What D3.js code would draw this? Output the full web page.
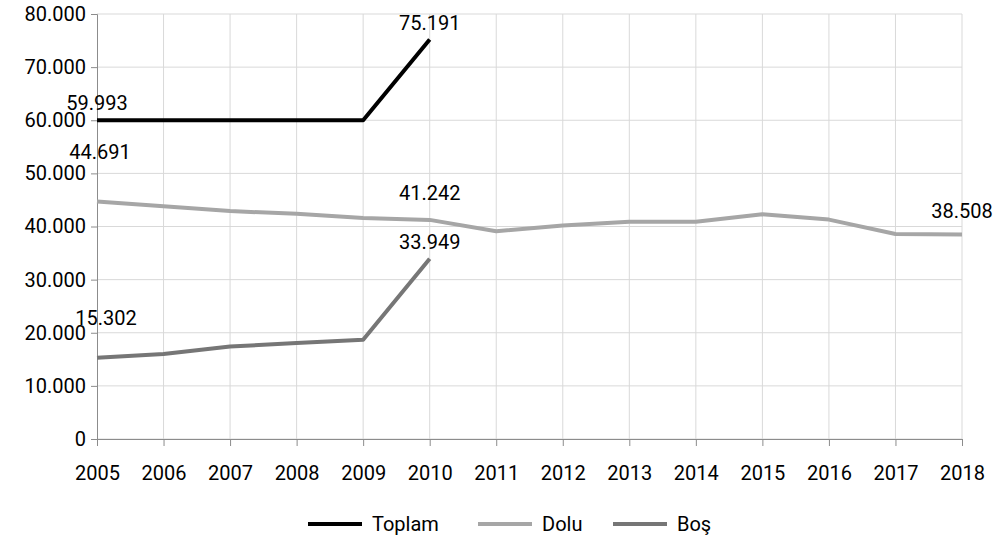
<!DOCTYPE html>
<html>
<head>
<meta charset="utf-8">
<script src="https://cdn.jsdelivr.net/npm/d3@7"></script>
<style>
  body { margin: 0; background: #fff; }
  text { font-family: Roboto, "Noto Sans", sans-serif; fill: #000; }
</style>
</head>
<body>
<div id="chart"></div>
<script>
var years = [2005, 2006, 2007, 2008, 2009, 2010, 2011, 2012, 2013, 2014, 2015, 2016, 2017, 2018];
var toplam = [59993, 60000, 60000, 60000, 60000, 75191];
var dolu = [44691, 43800, 42900, 42400, 41600, 41242, 39100, 40200, 40900, 40900, 42300, 41300, 38600, 38508];
var bos = [15302, 16000, 17400, 18050, 18700, 33949];
var yTicks = [0, 10000, 20000, 30000, 40000, 50000, 60000, 70000, 80000];

// data labels: series, index
var labels = [
  { s: 'toplam', i: 0, dx: 0, dy: -10 },
  { s: 'toplam', i: 5, dx: 0, dy: -10 },
  { s: 'dolu', i: 0, dx: 3, dy: -43 },
  { s: 'dolu', i: 5, dx: 0, dy: -20 },
  { s: 'dolu', i: 13, dx: 0, dy: -16 },
  { s: 'bos', i: 0, dx: 9, dy: -33 },
  { s: 'bos', i: 5, dx: 0, dy: -10 }
];

var series = [
  { key: 'toplam', name: 'Toplam', values: toplam, color: '#000000' },
  { key: 'dolu', name: 'Dolu', values: dolu, color: '#a6a6a6' },
  { key: 'bos', name: 'Boş', values: bos, color: '#767676' }
];

var width = 998, height = 549;
var mLeft = 97, mRight = 962, mTop = 14, mBottom = 439;

var svg = d3.select('#chart').append('svg')
  .attr('width', width)
  .attr('height', height);

var x = d3.scaleLinear().domain([2005, 2018]).range([mLeft, mRight]);
var y = d3.scaleLinear().domain([0, 80000]).range([mBottom, mTop]);

var fmt = function(v) { return d3.format(',')(v).replace(/,/g, '.'); };

// gridlines
svg.append('g').selectAll('line').data(yTicks).join('line')
  .attr('x1', mLeft).attr('x2', mRight)
  .attr('y1', function(d) { return y(d); }).attr('y2', function(d) { return y(d); })
  .attr('stroke', '#d9d9d9').attr('stroke-width', 1);
svg.append('g').selectAll('line').data(years.slice(1)).join('line')
  .attr('x1', function(d) { return x(d); }).attr('x2', function(d) { return x(d); })
  .attr('y1', mTop).attr('y2', mBottom)
  .attr('stroke', '#d9d9d9').attr('stroke-width', 1);

// axes
var yAxis = svg.append('g')
  .attr('transform', 'translate(' + mLeft + ',0)')
  .call(d3.axisLeft(y).tickValues(yTicks).tickSize(6).tickPadding(5)
    .tickFormat(function(d) { return d === 0 ? '0' : fmt(d); }));
var xAxis = svg.append('g')
  .attr('transform', 'translate(0,' + mBottom + ')')
  .call(d3.axisBottom(x).tickValues(years).tickSize(7).tickPadding(20).tickFormat(d3.format('d')));

[yAxis, xAxis].forEach(function(a) {
  a.select('.domain').attr('stroke', '#8c8c8c');
  a.selectAll('.tick line').attr('stroke', '#8c8c8c');
  a.selectAll('text').style('font-size', '20px').attr('fill', '#000');
});

// lines
var line = d3.line()
  .x(function(d, i) { return x(years[i]); })
  .y(function(d) { return y(d); });

// draw Dolu first, then Bos, then Toplam on top
[series[1], series[2], series[0]].forEach(function(s) {
  svg.append('path')
    .datum(s.values)
    .attr('fill', 'none')
    .attr('stroke', s.color)
    .attr('stroke-width', 4)
    .attr('stroke-linejoin', 'round')
    .attr('d', line);
});

// data labels
var byKey = {};
series.forEach(function(s) { byKey[s.key] = s; });
svg.append('g').selectAll('text').data(labels).join('text')
  .attr('x', function(d) { return x(years[d.i]) + d.dx; })
  .attr('y', function(d) { return y(byKey[d.s].values[d.i]) + d.dy; })
  .attr('text-anchor', 'middle')
  .style('font-size', '20px')
  .text(function(d) { return fmt(byKey[d.s].values[d.i]); });

// legend
var legendX = [308, 478, 613];
var legend = svg.append('g').selectAll('g').data(series).join('g')
  .attr('transform', function(d, i) { return 'translate(' + legendX[i] + ',524)'; });
legend.append('line')
  .attr('x1', 0).attr('x2', 54)
  .attr('stroke', function(d) { return d.color; })
  .attr('stroke-width', 4);
legend.append('text')
  .attr('x', 64).attr('y', 7)
  .style('font-size', '20px')
  .text(function(d) { return d.name; });
</script>
</body>
</html>
